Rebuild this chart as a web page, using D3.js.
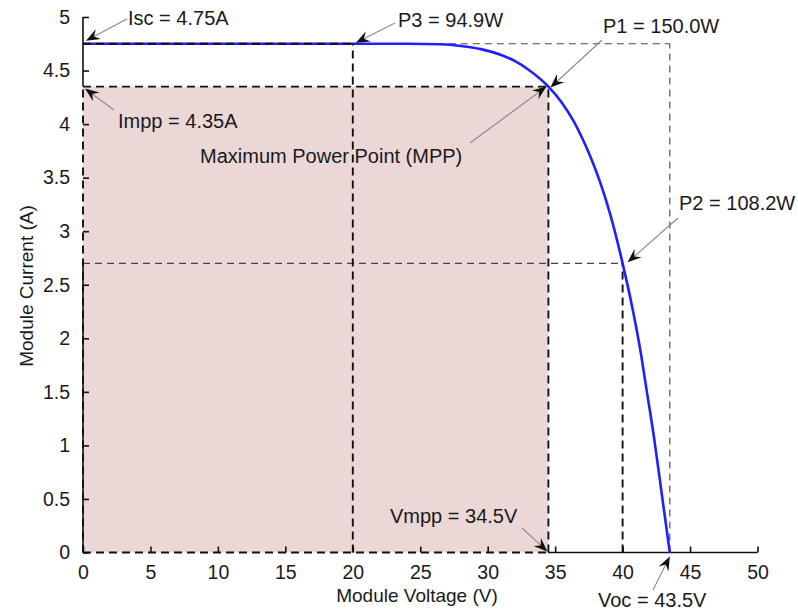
<!DOCTYPE html>
<html>
<head>
<meta charset="utf-8">
<script src="https://cdn.jsdelivr.net/npm/d3@7"></script>
<style>
  html, body { margin: 0; padding: 0; background: #fff; }
  svg { display: block; }
  text { font-family: "Liberation Sans", Arial, Helvetica, sans-serif; fill: #1a1a1a; }
</style>
</head>
<body>
<svg id="chart" width="798" height="611"></svg>
<script>
// ---- data ----
const voltage = [0, 10, 20, 24, 26.5, 28, 29.5, 31, 32, 33, 34.5, 35.5, 36.4, 37.0, 37.6, 38.3, 39.1, 40, 40.7, 41.3, 41.8, 42.3, 42.9, 43.5];
const current = [4.75, 4.75, 4.75, 4.75, 4.745, 4.73, 4.70, 4.645, 4.59, 4.51, 4.35, 4.20, 4.02, 3.87, 3.70, 3.47, 3.15, 2.70, 2.30, 1.90, 1.50, 1.10, 0.55, 0];
const xTicks = [0, 5, 10, 15, 20, 25, 30, 35, 40, 45, 50];
const yTicks = [0, 0.5, 1, 1.5, 2, 2.5, 3, 3.5, 4, 4.5, 5];
const xLabel = "Module Voltage (V)";
const yLabel = "Module Current (A)";
const Isc = 4.75, Voc = 43.5, Vmpp = 34.5, Impp = 4.35;
const P3 = [20, 4.75], P2 = [40, 2.7], P1 = [34.5, 4.35];
const annLabels = ["Isc = 4.75A", "P3 = 94.9W", "P1 = 150.0W", "Impp = 4.35A", "Maximum Power Point (MPP)", "P2 = 108.2W", "Vmpp = 34.5V", "Voc = 43.5V"];
const annTargets = [[0, 4.75], [20, 4.75], [34.5, 4.35], [0, 4.35], [34.5, 4.35], [40, 2.7], [34.5, 0], [43.5, 0]];

// ---- layout ----
const svg = d3.select("#chart");
const x = d3.scaleLinear().domain([0, 50]).range([83, 757.5]);
const y = d3.scaleLinear().domain([0, 5]).range([552.5, 17]);

// pink MPP area
svg.append("rect")
  .attr("x", x(0)).attr("y", y(Impp))
  .attr("width", x(Vmpp) - x(0)).attr("height", y(0) - y(Impp))
  .attr("fill", "#ecd7d7");

// axis lines (partially hidden like the original)
const axisG = svg.append("g").attr("stroke", "#111").attr("stroke-width", 1.6).attr("fill", "none");
axisG.append("line").attr("x1", x(0)).attr("x2", x(0)).attr("y1", y(0)).attr("y2", y(P2[1]));
axisG.append("line").attr("x1", x(0)).attr("x2", x(0)).attr("y1", y(Impp)).attr("y2", y(5));
axisG.append("line").attr("x1", x(Vmpp)).attr("x2", x(50)).attr("y1", y(0)).attr("y2", y(0));

// ticks
const xAxis = d3.axisBottom(x).tickValues(xTicks).tickSize(-6).tickPadding(12).tickFormat(d3.format("d"));
const gx = svg.append("g").attr("transform", `translate(0,${y(0)})`).call(xAxis);
gx.select(".domain").remove();
gx.selectAll(".tick line").attr("stroke", "#111").attr("stroke-width", 1.6);
gx.selectAll(".tick text").attr("font-size", 19.5).attr("fill", "#1a1a1a").attr("dy", "0.75em")
  .style("font-family", '"Liberation Sans", Arial, sans-serif');

const yAxis = d3.axisLeft(y).tickValues(yTicks).tickSize(-6).tickPadding(13).tickFormat(d => String(d));
const gy = svg.append("g").attr("transform", `translate(${x(0)},0)`).call(yAxis);
gy.select(".domain").remove();
gy.selectAll(".tick line").attr("stroke", "#111").attr("stroke-width", 1.6);
gy.selectAll(".tick text").attr("font-size", 19.5).attr("fill", "#1a1a1a")
  .style("font-family", '"Liberation Sans", Arial, sans-serif');

// dashed guide lines
function dline(x1, y1, x2, y2, thick) {
  svg.append("line")
    .attr("x1", x(x1)).attr("y1", y(y1)).attr("x2", x(x2)).attr("y2", y(y2))
    .attr("stroke", thick ? "#111" : "#444")
    .attr("stroke-width", thick ? 1.9 : 1.1)
    .attr("stroke-dasharray", thick ? "8,5" : "7,5");
}
// Isc / Voc box (thin)
dline(P3[0], Isc, Voc, Isc, false);
dline(Voc, 0, Voc, Isc, false);
// P2 box
dline(0, P2[1], P2[0], P2[1], false);
dline(P2[0], 0, P2[0], P2[1], true);

// curve
const pts = voltage.map((v, i) => [v, current[i]]);
svg.append("path")
  .datum(pts)
  .attr("fill", "none")
  .attr("stroke", "#1f1fff")
  .attr("stroke-width", 2.6)
  .attr("d", d3.line().x(d => x(d[0])).y(d => y(d[1])).curve(d3.curveMonotoneX));

// P3 box (thick, over curve)
dline(0, P3[1], P3[0], P3[1], true);
dline(P3[0], 0, P3[0], P3[1], true);
// MPP box (thick)
dline(0, Impp, Vmpp, Impp, true);
dline(Vmpp, 0, Vmpp, Impp, true);
dline(0, 0, Vmpp, 0, true);
dline(0, 0, 0, Impp, true);

// annotations: text positions (px) and arrow tails (px) - layout only
const annText = [[128, 25], [398, 27], [603, 33], [118, 128], [200, 163], [679, 210], [390, 523], [598, 607]];
const annTail = [[127, 19], [395, 23], [602, 40], [114, 110], [470, 143], [678, 218], [522, 528], [653, 590]];
const tipOffset = [[3, -3], [3, -1], [2, 1], [2, 2], [-2, 0], [5, -1], [-1, -1], [0, 4]];

annLabels.forEach((lab, i) => {
  const tx = x(annTargets[i][0]) + tipOffset[i][0];
  const ty = y(annTargets[i][1]) + tipOffset[i][1];
  const [sx, sy] = annTail[i];
  const dx = tx - sx, dy = ty - sy;
  const len = Math.hypot(dx, dy);
  const ux = dx / len, uy = dy / len;
  const L = 14, W = 5.5, N = 9;
  const bx = tx - ux * L, by = ty - uy * L;
  // tail line
  svg.append("line")
    .attr("x1", sx).attr("y1", sy).attr("x2", tx - ux * N).attr("y2", ty - uy * N)
    .attr("stroke", "#8a8a8a").attr("stroke-width", 1.1);
  // arrowhead
  const p = [
    [tx, ty],
    [bx - uy * W, by + ux * W],
    [tx - ux * N, ty - uy * N],
    [bx + uy * W, by - ux * W]
  ];
  svg.append("path")
    .attr("d", "M" + p.map(q => q.join(",")).join("L") + "Z")
    .attr("fill", "#111");
  svg.append("text")
    .attr("x", annText[i][0]).attr("y", annText[i][1])
    .attr("font-size", 20)
    .text(lab);
});

// axis titles
svg.append("text")
  .attr("x", 417).attr("y", 602)
  .attr("text-anchor", "middle").attr("font-size", 19)
  .text(xLabel);
svg.append("text")
  .attr("transform", "translate(33,286) rotate(-90)")
  .attr("text-anchor", "middle").attr("font-size", 19)
  .text(yLabel);
</script>
</body>
</html>
